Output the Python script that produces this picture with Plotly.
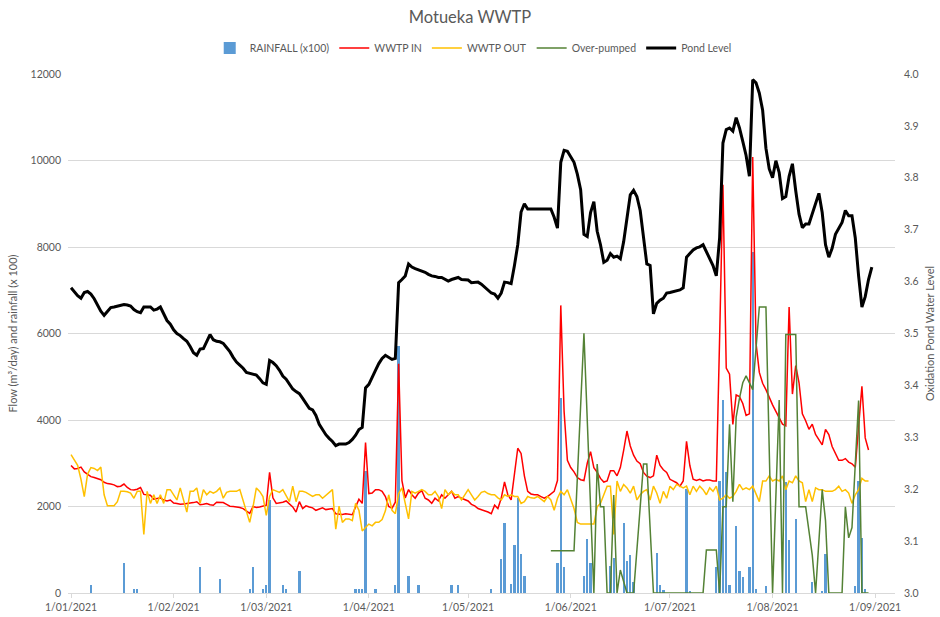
import pandas as pd
import plotly.graph_objects as go

START = pd.Timestamp("2021-01-01")

# Pond level (m), daily from 1 Jan 2021
pond_level = [
    3.588, 3.580, 3.573, 3.568, 3.579, 3.581, 3.576, 3.567, 3.554, 3.543,
    3.535, 3.542, 3.550, 3.551, 3.553, 3.555, 3.556, 3.555, 3.553, 3.546,
    3.542, 3.540, 3.551, 3.551, 3.551, 3.545, 3.547, 3.551, 3.538, 3.525,
    3.518, 3.507, 3.500, 3.496, 3.490, 3.485, 3.475, 3.463, 3.458, 3.470,
    3.471, 3.483, 3.498, 3.488, 3.485, 3.484, 3.481, 3.473, 3.465, 3.454,
    3.445, 3.439, 3.433, 3.425, 3.423, 3.422, 3.420, 3.413, 3.405, 3.402,
    3.448, 3.444, 3.438, 3.429, 3.418, 3.412, 3.403, 3.393, 3.388, 3.384,
    3.375, 3.365, 3.356, 3.353, 3.342, 3.325, 3.315, 3.305, 3.298, 3.292,
    3.284, 3.287, 3.287, 3.287, 3.290, 3.296, 3.304, 3.315, 3.319, 3.395,
    3.402, 3.417, 3.429, 3.442, 3.452, 3.458, 3.454, 3.450, 3.452, 3.598,
    3.604, 3.611, 3.634, 3.628, 3.625, 3.623, 3.620, 3.618, 3.614, 3.611,
    3.610, 3.608, 3.608, 3.604, 3.601, 3.604, 3.606, 3.608, 3.604, 3.603,
    3.603, 3.598, 3.598, 3.599, 3.595, 3.589, 3.584, 3.578, 3.576, 3.568,
    3.578, 3.599, 3.598, 3.596, 3.631, 3.671, 3.734, 3.750, 3.740, 3.740,
    3.740, 3.740, 3.740, 3.740, 3.740, 3.740, 3.724, 3.703, 3.830, 3.853,
    3.851, 3.840, 3.830, 3.807, 3.777, 3.691, 3.687, 3.733, 3.754, 3.697,
    3.671, 3.637, 3.641, 3.654, 3.647, 3.649, 3.644, 3.677, 3.724, 3.767,
    3.776, 3.764, 3.737, 3.684, 3.634, 3.631, 3.538, 3.558, 3.564, 3.568,
    3.578, 3.579, 3.581, 3.583, 3.584, 3.588, 3.647, 3.654, 3.661, 3.665,
    3.667, 3.671, 3.657, 3.644, 3.631, 3.611, 3.684, 3.867, 3.893, 3.896,
    3.890, 3.916, 3.896, 3.870, 3.843, 3.803, 3.989, 3.983, 3.963, 3.930,
    3.857, 3.817, 3.800, 3.833, 3.810, 3.760, 3.764, 3.803, 3.827, 3.775,
    3.730, 3.704, 3.711, 3.711, 3.730, 3.750, 3.770, 3.733, 3.671, 3.647,
    3.664, 3.691, 3.704, 3.714, 3.737, 3.727, 3.727, 3.684, 3.611, 3.551,
    3.571, 3.604, 3.628,
]

# WWTP inflow (m3/day), daily
wwtp_in = [
    2950, 2870, 2880, 2910, 2800, 2740, 2690, 2670, 2650, 2620,
    2560, 2530, 2520, 2500, 2460, 2470, 2520, 2440, 2390, 2380,
    2400, 2440, 2280, 2270, 2260, 2170, 2190, 2200, 2150, 2130,
    2150, 2080, 2070, 2050, 2060, 2070, 2070, 2090, 2110, 2040,
    2050, 2070, 2040, 2030, 2100, 2100, 2090, 2050, 2008, 2000,
    1990, 1976, 1950, 1900, 1840, 2000, 1976, 1990, 2010, 2030,
    2790, 2200, 2072, 2080, 2100, 2128, 2048, 1990, 1872, 2112,
    1952, 2016, 1990, 1968, 1912, 1940, 1968, 1928, 1940, 1952,
    1833, 1830, 1817, 1833, 1820, 1809, 1992, 2167, 2072, 3480,
    2300, 2311, 2390, 2390, 2350, 2231, 2000, 1960, 2100, 5300,
    2600, 2200, 2390, 2271, 2191, 2311, 2367, 2191, 2151, 2072,
    2191, 2128, 2271, 2191, 2271, 2350, 2191, 2231, 2191, 2160,
    2128, 2050, 2016, 1952, 1930, 1900, 1873, 1833, 2032, 1952,
    2191, 2566, 2271, 2151, 2709, 3347, 3227, 2709, 2350, 2290,
    2271, 2271, 2230, 2191, 2231, 2300, 2350, 2600, 6650, 4200,
    3068, 2900, 2800, 2669, 2620, 2600, 3000, 3267, 2900, 2789,
    2650, 2566, 2590, 2829, 2829, 2709, 2900, 3300, 3745, 3400,
    3187, 3050, 2988, 2789, 2700, 2669, 2709, 3187, 2948, 2850,
    2789, 2629, 2580, 2550, 2470, 2590, 3506, 2948, 2629, 2600,
    2629, 2590, 2613, 2613, 2590, 2590, 5900, 9440, 5200, 5060,
    3900, 4582, 4542, 4382, 4104, 4143, 10080, 5777, 5100, 4850,
    4701, 4502, 4350, 4200, 4064, 3904, 3865, 6613, 4600, 5259,
    4861, 4143, 3984, 3785, 3904, 3665, 3546, 3426, 3785, 3665,
    3386, 3227, 3068, 3068, 3108, 3028, 2988, 2908, 3904, 4781,
    3586, 3307,
]

# WWTP outflow (m3/day), daily
wwtp_out = [
    3200, 3070, 2950, 2630, 2230, 2750, 2900, 2880, 2830, 2910,
    2270, 2016, 2016, 2016, 2112, 2350, 2350, 2340, 2311, 2191,
    2350, 2350, 1355, 2350, 2072, 2271, 2072, 2271, 2072, 2390,
    2390, 2271, 2151, 2430, 2151, 1872, 2350, 2350, 2430, 2072,
    2390, 2271, 2350, 2311, 2350, 2430, 2191, 2327, 2350, 2350,
    2350, 2390, 2151, 1912, 1633, 1992, 2430, 2350, 2231, 1793,
    2231, 2390, 2350, 2327, 2390, 2231, 2112, 2470, 2112, 2350,
    2350, 2327, 2280, 2231, 2271, 2271, 2191, 2250, 2311, 2390,
    1474, 2008, 1633, 1713, 1713, 1673, 2072, 1912, 1434, 1514,
    1594, 1554, 1633, 1633, 1700, 1900, 2271, 1912, 1833, 2300,
    2430, 2072, 1713, 2350, 2311, 2350, 2390, 2350, 2271, 2271,
    2350, 2231, 1952, 2390, 2271, 2350, 2271, 2271, 2151, 2271,
    2390, 2271, 2151, 2231, 2327, 2350, 2300, 2271, 2271, 2200,
    2151, 2271, 2231, 2271, 2231, 2231, 2072, 2112, 2231, 2200,
    2191, 2231, 2180, 2112, 2231, 2151, 1912, 2191, 2350, 2271,
    2390, 2151, 1952, 1633, 1594, 1594, 1594, 1594, 1594, 1992,
    2072, 2271, 2470, 2470, 1355, 2590, 2350, 2510, 2430, 2311,
    2470, 2151, 2271, 2350, 2390, 2151, 2470, 2311, 2072, 2350,
    2191, 2470, 2390, 2510, 2470, 2430, 2470, 2271, 2470, 2350,
    2470, 2390, 2271, 2430, 2350, 2470, 2151, 2191, 2271, 2191,
    2231, 2350, 2510, 2390, 2430, 2390, 2470, 2271, 2112, 2589,
    2589, 2709, 2589, 2629, 2589, 2709, 2390, 2589, 2550, 2709,
    2589, 2550, 2112, 2390, 2112, 2430, 2390, 2390, 2350, 2350,
    2350, 2390, 2470, 2350, 2390, 2311, 2072, 2271, 2390, 2650,
    2589, 2589,
]

# Over-pumped (m3/day): day offset from 1 Jan and value at each recorded vertex
over_day = [145, 152, 155, 158, 159, 160, 161, 162, 163, 164, 165, 166, 168, 170,
            173, 174, 176, 191, 192, 195, 196, 197, 198, 199, 200, 201, 202, 203,
            204, 205, 206, 208, 210, 212, 214, 215, 216, 219, 220, 222, 224, 225,
            227, 228, 229, 233, 234, 235, 236, 238, 239, 241]
over_val = [979, 979, 6004, 0, 2982, 1996, 1996, 0, 0, 2266, 0, 532, 0, 0,
            2982, 2982, 0, 0, 996, 996, 0, 1992, 1992, 3900, 2112, 4064, 4500, 4861,
            5020, 4861, 4701, 6613, 6613, 0, 4462, 0, 5976, 5976, 1992, 1992, 876, 0,
            2390, 1673, 0, 0, 1992, 1275, 1514, 4450, 0, 0]

# Rainfall (x100): day offset from 1 Jan and value
rain_day = [6, 16, 19, 20, 39, 45, 54, 55, 58, 59, 60, 64, 65, 69, 86, 87, 88, 89, 92,
            98, 99, 102, 105, 115, 117, 127, 130, 131, 133, 134, 135, 136, 137,
            147, 148, 149, 155, 156, 157, 163, 164, 167, 168, 169, 170, 177, 178, 179,
            186, 187, 195, 196, 197, 198, 199, 201, 202, 203, 205, 206, 207, 210,
            216, 217, 219, 224, 227, 228, 237, 238, 239, 240]
rain_val = [190, 705, 90, 90, 610, 315, 90, 600, 90, 190, 2150, 190, 90, 500, 90, 90, 90, 2830, 90,
            195, 5700, 390, 195, 195, 195, 92, 790, 1610, 200, 1100, 2190, 900, 390,
            705, 4500, 610, 390, 1250, 705, 620, 800, 1630, 740, 885, 250, 930, 190, 80,
            2400, 30, 610, 2590, 4460, 2800, 193, 1554, 501, 359, 610, 7890, 92, 154,
            2566, 1235, 1713, 247, 30, 900, 154, 2590, 1275, 92]

tick_dates = ["2021-01-01", "2021-02-01", "2021-03-01", "2021-04-01", "2021-05-01",
              "2021-06-01", "2021-07-01", "2021-08-01", "2021-09-01"]
tick_labels = ["1/01/2021", "1/02/2021", "1/03/2021", "1/04/2021", "1/05/2021",
               "1/06/2021", "1/07/2021", "1/08/2021", "1/09/2021"]

days = lambda n: pd.date_range(START, periods=n, freq="D")
offs = lambda d: [START + pd.Timedelta(days=int(k)) for k in d]

GRAY = "#595959"
FONT = "Lato"

fig = go.Figure()
fig.add_trace(go.Bar(x=offs(rain_day), y=rain_val, name="RAINFALL (x100)",
                     marker=dict(color="#5B9BD5", line=dict(width=0)),
                     width=0.7 * 86400000))
fig.add_trace(go.Scatter(x=days(len(wwtp_in)), y=wwtp_in, name="WWTP IN", mode="lines",
                         line=dict(color="#FF0000", width=1.5)))
fig.add_trace(go.Scatter(x=days(len(wwtp_out)), y=wwtp_out, name="WWTP OUT", mode="lines",
                         line=dict(color="#FFC000", width=1.5)))
fig.add_trace(go.Scatter(x=offs(over_day), y=over_val, name="Over-pumped", mode="lines",
                         line=dict(color="#548235", width=1.5)))
fig.add_trace(go.Scatter(x=days(len(pond_level)), y=pond_level, name="Pond Level", mode="lines",
                         line=dict(color="#000000", width=3), yaxis="y2"))

fig.update_layout(
    width=940, height=617,
    margin=dict(l=68, r=45, t=74, b=24, autoexpand=False),
    paper_bgcolor="white", plot_bgcolor="white",
    font=dict(family=FONT, color=GRAY, size=11),
    title=dict(text="Motueka WWTP", x=0.5, xref="container", xanchor="center",
               y=1 - 17 / 617, yref="container", yanchor="middle",
               font=dict(size=16.5, color=GRAY, family=FONT)),
    legend=dict(orientation="h", x=0.49, xanchor="center", y=1.05, yanchor="middle",
                font=dict(size=10.5, color=GRAY), traceorder="normal",
                bgcolor="rgba(0,0,0,0)"),
    showlegend=True,
    bargap=0,
    xaxis=dict(type="date", range=["2020-12-31 02:00", "2021-09-07"],
               tickvals=tick_dates, ticktext=tick_labels,
               tickfont=dict(size=10.5, color=GRAY),
               showgrid=False, showline=True, linecolor="#D9D9D9", linewidth=1,
               ticks="outside", ticklen=4, tickcolor="#D9D9D9", zeroline=False),
    yaxis=dict(range=[0, 12000], dtick=2000, tickformat="d", showgrid=True,
               gridcolor="#D9D9D9", zeroline=False, showline=False,
               tickfont=dict(size=10.5, color=GRAY), ticklabelstandoff=6,
               title=dict(text="Flow (m³/day) and rainfall (x 100)",
                          font=dict(size=11, color=GRAY), standoff=10)),
    yaxis2=dict(range=[3.0, 4.0], dtick=0.1, tickformat=".1f", overlaying="y",
                side="right", showgrid=False, zeroline=False, showline=False,
                tickfont=dict(size=10.5, color=GRAY), ticklabelstandoff=8,
                title=dict(text="Oxidation Pond Water Level",
                           font=dict(size=11, color=GRAY), standoff=8)),
)

fig.write_html("out.html", config={"displayModeBar": False},
               post_script="document.body.style.margin='0';document.body.style.padding='0';")
